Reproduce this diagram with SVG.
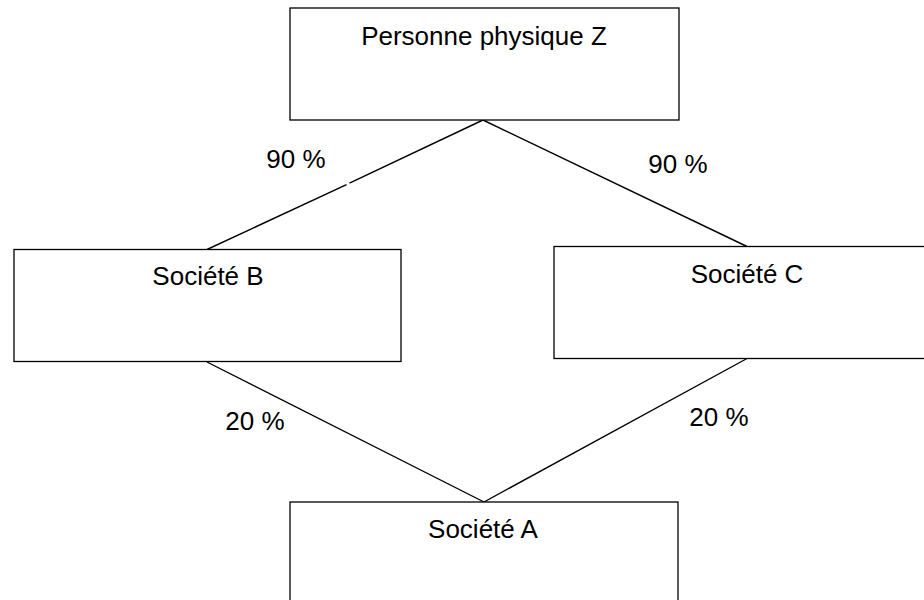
<svg xmlns="http://www.w3.org/2000/svg" width="924" height="600" viewBox="0 0 924 600">
<style>
.box{fill:#fff;stroke:#000;stroke-width:1.3}
.t{font-family:"Liberation Sans",Arial,sans-serif;font-size:26px;fill:#000;text-anchor:middle}
.c{stroke:#000;stroke-width:1.4;fill:none}
</style>
<rect width="924" height="600" fill="#fff"/>
<g id="connectors">
<line class="c" x1="483" y1="120" x2="349.5" y2="183.2"/>
<line class="c" x1="346.5" y1="184.6" x2="207" y2="249.5"/>
<line class="c" x1="483" y1="120" x2="747" y2="246.5"/>
<line class="c" x1="207" y1="362" x2="484" y2="502"/>
<line class="c" x1="747" y1="358.5" x2="484" y2="502"/>
<text class="t" x="296" y="168">90 %</text>
<text class="t" x="678" y="173">90 %</text>
<text class="t" x="255" y="430">20 %</text>
<text class="t" x="719" y="426">20 %</text>
</g>
<g id="nodeZ">
<rect class="box" x="290" y="8" width="389" height="112"/>
<text class="t" x="484" y="45">Personne physique Z</text>
</g>
<g id="nodeB">
<rect class="box" x="14" y="249.5" width="387" height="112"/>
<text class="t" x="208" y="285">Société B</text>
</g>
<g id="nodeC">
<rect class="box" x="554" y="246.5" width="390" height="112"/>
<text class="t" x="747" y="283">Société C</text>
</g>
<g id="nodeA">
<rect class="box" x="290" y="502" width="388" height="112"/>
<text class="t" x="483" y="538">Société A</text>
</g>
</svg>
